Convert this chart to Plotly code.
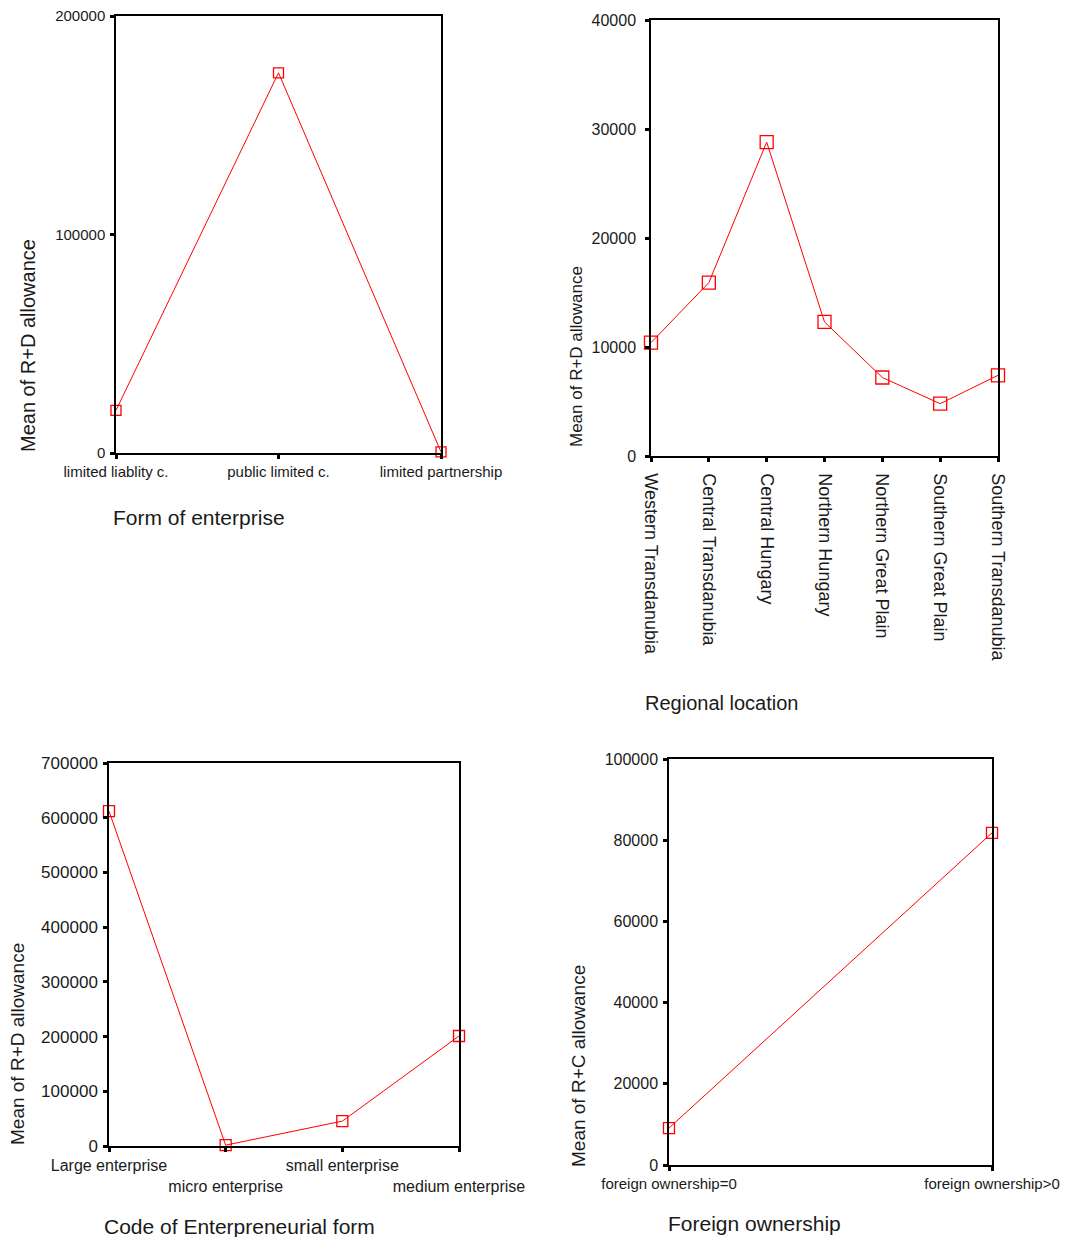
import plotly.graph_objects as go

# ---------------- data ----------------
form_cats = ["limited liablity c.", "public limited c.", "limited partnership"]
form_vals = [19500, 174000, 500]

region_cats = ["Western Transdanubia", "Central Transdanubia", "Central Hungary",
               "Northern Hungary", "Northern Great Plain", "Southern Great Plain",
               "Southern Transdanubia"]
region_vals = [10400, 15900, 28800, 12300, 7200, 4800, 7400]

size_cats = ["Large enterprise", "micro enterprise", "small enterprise", "medium enterprise"]
size_vals = [612000, 1500, 45500, 201000]

foreign_cats = ["foreign ownership=0", "foreign ownership>0"]
foreign_vals = [9100, 81800]

y1_ticks = [0, 100000, 200000]
y2_ticks = [0, 10000, 20000, 30000, 40000]
y3_ticks = [0, 100000, 200000, 300000, 400000, 500000, 600000, 700000]
y4_ticks = [0, 20000, 40000, 60000, 80000, 100000]

# ---------------- layout helpers ----------------
W, H = 1062, 1229
OFF = 8  # page body margin
FONT = "Arial, Liberation Sans, sans-serif"
RED = "#ff0000"
TXT = "#1a1a1a"


def px_x(x):
    return (x - OFF) / W


def px_y(y):
    return 1 - (y - OFF) / H


fig = go.Figure()

panels = [
    # cats, vals, yticks, x-domain px, y-domain px (top, bottom), marker size,
    # x tick font size, y tick font size, y label standoff
    (form_cats, form_vals, y1_ticks, (116, 441), (16, 453), 10, 15, 15, 2),
    (region_cats, region_vals, y2_ticks, (651, 998), (20, 456), 13, 18, 16, 6),
    (size_cats, size_vals, y3_ticks, (109, 459), (763, 1146), 11, 16, 17, 2),
    (foreign_cats, foreign_vals, y4_ticks, (669, 992), (759, 1165), 11, 15, 16, 2),
]

for i, (cats, vals, yt, (xl, xr), (yt_px, yb_px), msize, xfs, yfs, ystand) in enumerate(panels):
    n = i + 1
    xa = "x" if n == 1 else f"x{n}"
    ya = "y" if n == 1 else f"y{n}"
    fig.add_trace(go.Scatter(
        x=list(range(len(cats))), y=vals, xaxis=xa, yaxis=ya,
        mode="lines+markers", cliponaxis=False,
        line=dict(color=RED, width=1),
        marker=dict(symbol="square-open", size=msize, color=RED,
                    line=dict(width=1.3, color=RED)),
        showlegend=False))

    if n == 3:
        ticktext = [("<br>" + c) if k % 2 else c for k, c in enumerate(cats)]
    else:
        ticktext = list(cats)

    xaxis = dict(
        domain=[px_x(xl), px_x(xr)], anchor=ya, automargin=False,
        range=[0, len(cats) - 1], tickmode="array",
        tickvals=list(range(len(cats))), ticktext=ticktext,
        tickangle=90 if n == 2 else 0,
        tickfont=dict(family=FONT, size=xfs, color=TXT),
        ticklabelstandoff=8 if n == 2 else 0,
        ticklabeloverflow="allow",
        showgrid=False, zeroline=False, showline=True, mirror=True,
        linecolor="black", linewidth=1.5,
        ticks="outside", ticklen=4, tickwidth=3, tickcolor="black",
    )
    yaxis = dict(
        domain=[px_y(yb_px), px_y(yt_px)], anchor=xa, automargin=False,
        range=[yt[0], yt[-1]], tickmode="array", tickvals=yt,
        ticktext=[str(v) for v in yt],
        tickfont=dict(family=FONT, size=yfs, color=TXT),
        ticklabelstandoff=ystand, ticklabeloverflow="allow",
        showgrid=False, zeroline=False, showline=True, mirror=True,
        linecolor="black", linewidth=1.5,
        ticks="outside", ticklen=4, tickwidth=3, tickcolor="black",
    )
    fig.layout["xaxis" if n == 1 else f"xaxis{n}"] = xaxis
    fig.layout["yaxis" if n == 1 else f"yaxis{n}"] = yaxis

# ---------------- axis titles as annotations ----------------
titles = [
    # text, x px, y px, angle, size
    ("Mean of R+D allowance", 28, 346, -90, 20),
    ("Form of enterprise", 199, 518, 0, 21),
    ("Mean of R+D allowance", 576, 357, -90, 17),
    ("Regional location", 721, 703, 0, 20),
    ("Mean of R+D allowance", 17, 1044, -90, 19),
    ("Code of Enterpreneurial form", 239, 1226, 0, 21),
    ("Mean of R+C allowance", 578, 1066, -90, 19),
    ("Foreign ownership", 754, 1223, 0, 21),
]
for text, x, y, ang, sz in titles:
    fig.add_annotation(text=text, x=px_x(x), y=px_y(y), xref="paper", yref="paper",
                       xanchor="center", yanchor="middle", textangle=ang,
                       showarrow=False, font=dict(family=FONT, size=sz, color=TXT))

fig.update_layout(
    width=W, height=H, margin=dict(l=0, r=0, t=0, b=0, autoexpand=False),
    paper_bgcolor="white", plot_bgcolor="white",
)

fig.write_html("out.html")
